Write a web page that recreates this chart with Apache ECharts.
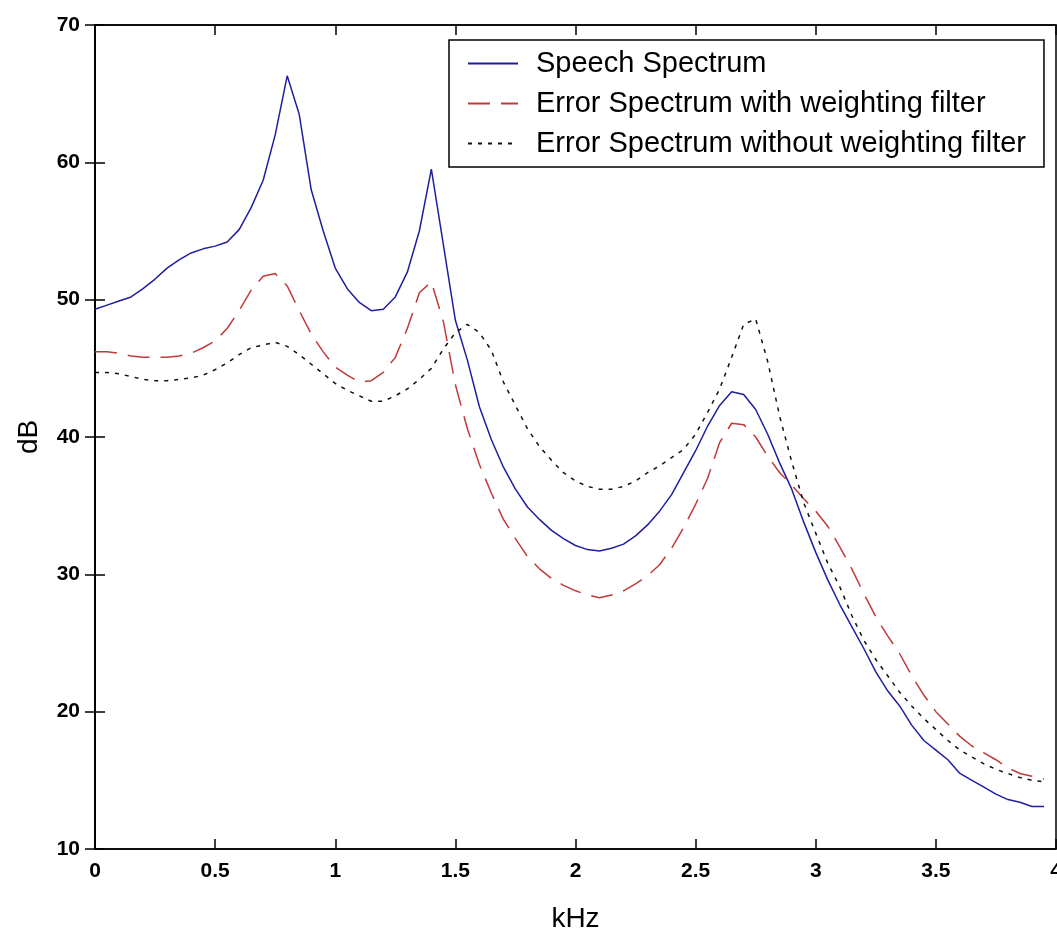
<!DOCTYPE html>
<html>
<head>
<meta charset="utf-8">
<script src="https://cdn.jsdelivr.net/npm/echarts@6/dist/echarts.min.js"></script>
<style>
html,body{margin:0;padding:0;background:#fff;}
#chart{width:1057px;height:934px;}
</style>
</head>
<body>
<div id="chart"></div>
<script>
// Frequency samples (kHz)
const freqs = [0.00,0.05,0.10,0.15,0.20,0.25,0.30,0.35,0.40,0.45,0.50,0.55,0.60,0.65,0.70,0.75,0.80,0.85,0.90,0.95,
  1.00,1.05,1.10,1.15,1.20,1.25,1.30,1.35,1.40,1.45,1.50,1.55,1.60,1.65,1.70,1.75,1.80,1.85,1.90,1.95,
  2.00,2.05,2.10,2.15,2.20,2.25,2.30,2.35,2.40,2.45,2.50,2.55,2.60,2.65,2.70,2.75,2.80,2.85,2.90,2.95,
  3.00,3.05,3.10,3.15,3.20,3.25,3.30,3.35,3.40,3.45,3.50,3.55,3.60,3.65,3.70,3.75,3.80,3.85,3.90,3.95];

const speechSpectrum = [49.3,49.6,49.9,50.2,50.8,51.5,52.3,52.9,53.4,53.7,53.9,54.2,55.1,56.7,58.7,62.0,66.3,63.5,58.0,55.0,
  52.3,50.8,49.8,49.2,49.3,50.2,52.0,55.0,59.5,54.0,48.5,45.6,42.2,39.8,37.8,36.2,34.9,34.0,33.2,32.6,
  32.1,31.8,31.7,31.9,32.2,32.8,33.6,34.6,35.8,37.4,39.0,40.8,42.3,43.3,43.1,42.0,40.2,38.1,36.2,33.8,
  31.6,29.6,27.8,26.2,24.6,22.9,21.5,20.4,19.0,17.9,17.2,16.5,15.5,15.0,14.5,14.0,13.6,13.4,13.1,13.1];

const errorWithFilter = [46.2,46.2,46.1,45.9,45.8,45.8,45.8,45.9,46.1,46.5,47.0,47.9,49.2,50.7,51.7,51.9,51.0,49.2,47.5,46.2,
  45.1,44.5,44.0,44.1,44.7,45.8,47.9,50.5,51.3,48.4,43.8,40.6,38.0,35.9,34.0,32.6,31.3,30.4,29.7,29.2,
  28.8,28.5,28.3,28.5,28.8,29.3,29.9,30.7,31.9,33.4,35.1,37.0,39.6,41.0,40.9,40.0,38.6,37.4,36.5,35.5,
  34.6,33.5,32.0,30.4,28.6,26.9,25.5,24.2,22.6,21.2,20.0,19.1,18.2,17.5,17.0,16.5,15.9,15.5,15.3,15.1];

const errorWithoutFilter = [44.7,44.7,44.6,44.4,44.2,44.1,44.1,44.2,44.3,44.5,44.9,45.4,46.0,46.5,46.7,46.9,46.6,46.0,45.3,44.6,
  43.9,43.4,43.0,42.6,42.6,43.0,43.5,44.2,45.0,46.4,47.6,48.2,47.6,46.3,44.0,42.3,40.6,39.3,38.3,37.4,
  36.8,36.4,36.2,36.2,36.4,36.8,37.4,37.9,38.5,39.1,40.2,41.8,43.5,45.8,48.2,48.6,45.5,41.5,38.2,35.2,
  33.0,30.8,29.1,27.0,25.2,23.8,22.6,21.4,20.4,19.5,18.7,17.9,17.2,16.7,16.2,15.8,15.5,15.2,15.0,14.9];

const seriesNames = ['Speech Spectrum','Error Spectrum with weighting filter','Error Spectrum without weighting filter'];
const xAxisName = 'kHz';
const yAxisName = 'dB';

const pair = arr => freqs.map((f,i)=>[f,arr[i]]);

const tickFont = {fontFamily:'Liberation Sans, Arial, sans-serif', fontWeight:'bold', fontSize:21, color:'#000'};

const chart = echarts.init(document.getElementById('chart'), null, {renderer:'canvas'});
chart.setOption({
  animation:false,
  backgroundColor:'#fff',
  grid:{left:95, right:1, top:25, bottom:85, show:true, borderColor:'#000', borderWidth:1.5,
        containLabel:false, outerBoundsMode:'none'},
  legend:{
    orient:'vertical', left:449, top:40,
    data:seriesNames,
    backgroundColor:'#fff', borderColor:'#000', borderWidth:1.5, borderRadius:0,
    padding:[9,18,9,18],
    itemWidth:50, itemHeight:14, itemGap:11,
    itemStyle:{opacity:0},
    textStyle:{fontFamily:'Liberation Sans, Arial, sans-serif', fontSize:29, color:'#000', padding:[0,0,0,13]}
  },
  xAxis:[{
    type:'value', min:0, max:4, interval:0.5,
    name:xAxisName, nameLocation:'middle', nameGap:56,
    nameTextStyle:{fontFamily:'Liberation Sans, Arial, sans-serif', fontSize:28, color:'#000'},
    axisLine:{show:true, lineStyle:{color:'#000', width:1.5}},
    axisTick:{show:true, inside:true, length:10, lineStyle:{color:'#000', width:1.5}},
    axisLabel:Object.assign({margin:12, formatter:v=>String(v)}, tickFont),
    splitLine:{show:false}
  },{
    type:'value', min:0, max:4, interval:0.5, position:'top',
    axisLine:{show:true, lineStyle:{color:'#000', width:1.5}},
    axisTick:{show:true, inside:true, length:10, lineStyle:{color:'#000', width:1.5}},
    axisLabel:{show:false}, splitLine:{show:false}
  }],
  yAxis:[{
    type:'value', min:10, max:70, interval:10,
    name:yAxisName, nameLocation:'middle', nameGap:52, nameRotate:90,
    nameTextStyle:{fontFamily:'Liberation Sans, Arial, sans-serif', fontSize:28, color:'#000'},
    axisLine:{show:true, lineStyle:{color:'#000', width:1.5}},
    axisTick:{show:true, inside:true, length:10, lineStyle:{color:'#000', width:1.5}},
    axisLabel:Object.assign({margin:15}, tickFont),
    splitLine:{show:false}
  },{
    type:'value', min:10, max:70, interval:10, position:'right',
    axisLine:{show:true, lineStyle:{color:'#000', width:1.5}},
    axisTick:{show:true, inside:true, length:10, lineStyle:{color:'#000', width:1.5}},
    axisLabel:{show:false}, splitLine:{show:false}
  }],
  series:[
    {name:seriesNames[0], type:'line', data:pair(speechSpectrum), showSymbol:false, symbol:'none',
     lineStyle:{color:'#1f1f9e', width:1.5, type:'solid'}, itemStyle:{color:'#1f1f9e'}},
    {name:seriesNames[1], type:'line', data:pair(errorWithFilter), showSymbol:false, symbol:'none',
     lineStyle:{color:'#c03a3a', width:1.5, type:[22,11]}, itemStyle:{color:'#c03a3a'}},
    {name:seriesNames[2], type:'line', data:pair(errorWithoutFilter), showSymbol:false, symbol:'none',
     lineStyle:{color:'#111', width:1.5, type:[4,6]}, itemStyle:{color:'#111'}}
  ]
});
</script>
</body>
</html>
